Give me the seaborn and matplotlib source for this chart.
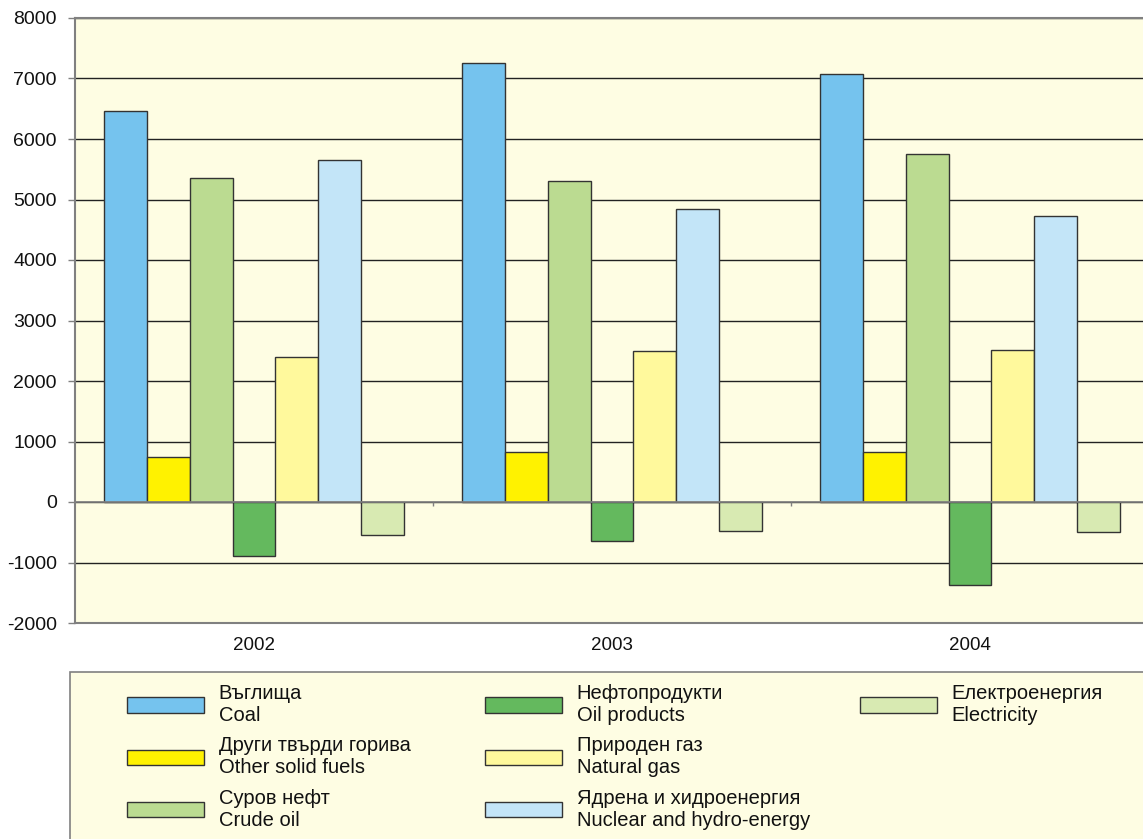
import pandas as pd
import seaborn as sns
import matplotlib.pyplot as plt
from matplotlib.patches import Rectangle, Patch

# data
years = ['2002', '2003', '2004']
series_bg = ['Въглища', 'Други твърди горива', 'Суров нефт', 'Нефтопродукти',
             'Природен газ', 'Ядрена и хидроенергия', 'Електроенергия']
series_en = ['Coal', 'Other solid fuels', 'Crude oil', 'Oil products',
             'Natural gas', 'Nuclear and hydro-energy', 'Electricity']
coal = [6460, 7250, 7080]
other_solid = [750, 820, 820]
crude_oil = [5360, 5300, 5760]
oil_products = [-890, -640, -1370]
natural_gas = [2400, 2500, 2520]
nuclear_hydro = [5650, 4850, 4720]
electricity = [-540, -480, -500]
yticks = list(range(-2000, 8001, 1000))

colors = ['#75C3EE', '#FFF200', '#BBDB91', '#64B95E', '#FFF99C', '#C3E5F8', '#D8EAB2']

values = [coal, other_solid, crude_oil, oil_products, natural_gas, nuclear_hydro, electricity]
labels = [f'{b}\n{e}' for b, e in zip(series_bg, series_en)]
rows = []
for lab, vals in zip(labels, values):
    for y, v in zip(years, vals):
        rows.append({'year': y, 'series': lab, 'value': v})
df = pd.DataFrame(rows)

sns.set_theme(style='white')
plt.rcParams['font.family'] = ['Liberation Sans', 'DejaVu Sans']

fig = plt.figure(figsize=(11.43, 8.39), dpi=100)
ax = fig.add_axes([75 / 1143, 216 / 839, 1074 / 1143, 605 / 839])
ax.set_facecolor('#FEFDE3')

sns.barplot(data=df, x='year', y='value', hue='series', hue_order=labels,
            palette=colors, saturation=1, width=0.84, edgecolor='#333333',
            linewidth=1, legend=False, ax=ax)

ax.set_axisbelow(True)
ax.yaxis.grid(True, color='#222222', linewidth=1)
ax.set_ylim(-2000, 8000)
ax.set_xlim(-0.5, 2.5)
ax.set_yticks(yticks)
ax.set_yticklabels([str(t) for t in yticks], fontsize=14)
ax.tick_params(axis='y', left=True, length=5, width=1, color='#808080', pad=8,
               labelcolor='#111111')
ax.tick_params(axis='x', bottom=False, labelsize=13.5, pad=4, labelcolor='#111111')
ax.set_xlabel('')
ax.set_ylabel('')
for side in ['left', 'top', 'bottom']:
    ax.spines[side].set_color('#808080')
    ax.spines[side].set_linewidth(1.5)
ax.spines['right'].set_visible(False)
ax.axhline(0, color='#808080', linewidth=1.2, zorder=1)
ax.vlines([0.5, 1.5], -70, 0, color='#808080', linewidth=1)

# legend box
fig.patches.append(Rectangle((70 / 1143, -0.01), 1.02, (839 - 672) / 839 + 0.01,
                             transform=fig.transFigure, facecolor='#FEFDE3',
                             edgecolor='#808080', linewidth=1.2, zorder=0))
handles = [Patch(facecolor=c, edgecolor='#333333', linewidth=1) for c in colors]
col_groups = [[0, 1, 2], [3, 4, 5], [6]]
col_x = [127, 485, 860]
for idx, x0 in zip(col_groups, col_x):
    leg = fig.legend([handles[i] for i in idx], [labels[i] for i in idx],
                     loc='upper left', bbox_to_anchor=(x0 / 1143, 1 - 684 / 839),
                     frameon=False, borderpad=0, borderaxespad=0,
                     prop={'size': 14.5}, handlelength=3.83, handleheight=0.8,
                     handletextpad=0.72, labelspacing=0.57)
    for t in leg.get_texts():
        t.set_color('#111111')
        t.set_linespacing(1.19)

fig.savefig('out.png', dpi=100)
plt.close(fig)
